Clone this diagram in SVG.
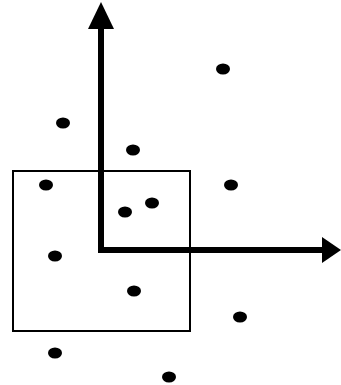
<svg xmlns="http://www.w3.org/2000/svg" width="341" height="385" viewBox="0 0 341 385">
<style>
.dot{fill:#000}
.axis{stroke:#000;stroke-width:6;fill:none}
.box{stroke:#000;stroke-width:2;fill:none}
</style>
<rect x="0" y="0" width="341" height="385" fill="#fff"/>
<g id="window"><rect class="box" x="13" y="171" width="177" height="160"/></g>
<g id="points">
<ellipse class="dot" cx="223" cy="69" rx="7" ry="5.5"/>
<ellipse class="dot" cx="63" cy="123" rx="7" ry="5.5"/>
<ellipse class="dot" cx="133" cy="150" rx="7" ry="5.5"/>
<ellipse class="dot" cx="46" cy="185" rx="7" ry="5.5"/>
<ellipse class="dot" cx="231" cy="185" rx="7" ry="5.5"/>
<ellipse class="dot" cx="125" cy="212" rx="7" ry="5.5"/>
<ellipse class="dot" cx="152" cy="203" rx="7" ry="5.5"/>
<ellipse class="dot" cx="55" cy="256" rx="7" ry="5.5"/>
<ellipse class="dot" cx="134" cy="291" rx="7" ry="5.5"/>
<ellipse class="dot" cx="240" cy="317" rx="7" ry="5.5"/>
<ellipse class="dot" cx="55" cy="353" rx="7" ry="5.5"/>
<ellipse class="dot" cx="169" cy="377" rx="7" ry="5.5"/>
</g>
<g id="axes">
<path class="axis" d="M101,26 V250 H324"/>
<polygon points="101,2 88,29 114,29" fill="#000"/>
<polygon points="341,250 322,237 322,263" fill="#000"/>
</g>
</svg>
